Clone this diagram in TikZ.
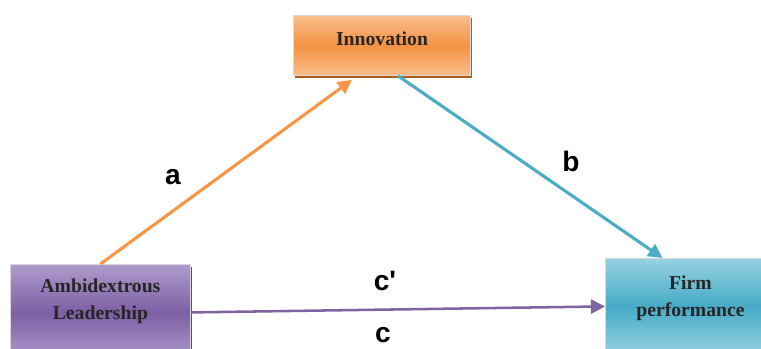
\documentclass[tikz,border=0pt]{standalone}
\usepackage{fontspec}
\setmainfont{Liberation Serif}
\newfontfamily\labelfont{Liberation Sans}
\usepackage{tikz}
\usetikzlibrary{arrows.meta, positioning, calc, shadows}
\definecolor{orangeln}{RGB}{247,150,70}
\definecolor{blueln}{RGB}{75,172,198}
\definecolor{purpleln}{RGB}{128,100,162}
\definecolor{orangetop}{RGB}{250,190,140}
\definecolor{orangemid}{RGB}{244,146,68}
\definecolor{orangedark}{RGB}{180,90,25}
\definecolor{purpletop}{RGB}{175,155,205}
\definecolor{purplemid}{RGB}{125,95,165}
\definecolor{purpledark}{RGB}{95,70,130}
\definecolor{bluetop}{RGB}{150,210,225}
\definecolor{bluemid}{RGB}{70,170,198}
\definecolor{bluedark}{RGB}{45,130,155}
\tikzset{
  basebox/.style={rectangle,draw=white!70!gray,line width=0.6pt,align=center},
  innobox/.style={basebox,top color=orangetop,bottom color=orangetop,middle color=orangemid,
    drop shadow={shadow xshift=1.2pt,shadow yshift=-1.8pt,fill=orangedark,opacity=1},
    minimum width=4.43cm,minimum height=1.5cm},
  ambbox/.style={basebox,top color=purpletop,bottom color=purpletop,middle color=purplemid,
    drop shadow={shadow xshift=1.2pt,shadow yshift=-1.6pt,fill=purpledark,opacity=1},
    minimum width=4.5cm,minimum height=2.4cm},
  firmbox/.style={basebox,top color=bluetop,bottom color=bluetop,middle color=bluemid,
    drop shadow={shadow xshift=1.2pt,shadow yshift=-1.6pt,fill=bluedark,opacity=1},
    minimum width=4.25cm,minimum height=2.4cm},
  boxtext/.style={align=center,font=\fontsize{14}{19}\selectfont\bfseries,text=black!85},
  pathlabel/.style={font=\labelfont\fontsize{20}{22}\selectfont\bfseries},
  arr/.style={-{Triangle[length=10pt,width=10pt]},line width=2.2pt}
}
\begin{document}
\begin{tikzpicture}
  \useasboundingbox (0,0) rectangle (19.025,8.725);
  \node[innobox,anchor=north west] (innov) at (7.325,8.35) {};
  \node[boxtext] (innovtext) at ($(innov.north)+(0,-0.6)$) {Innovation};
  \node[ambbox,anchor=north west] (amb) at (0.25,2.125) {};
  \node[boxtext,below=0.25cm of amb.north] (ambtext) {Ambidextrous\\Leadership};
  \node[firmbox,anchor=north west] (firm) at (15.125,2.275) {};
  \node[boxtext,below=0.33cm of firm.north] (firmtext) {Firm\\performance};

  \draw[arr,orangeln] (amb.north) -- ([xshift=-0.75cm,yshift=-0.1cm]innov.south);
  \draw[arr,blueln] ([xshift=0.4cm]innov.south) -- ([xshift=-0.7cm]firm.north);
  \draw[arr,purpleln,line width=1.8pt] (amb.east) -- (firm.west);

  \node[pathlabel] (la) at (4.325,4.3) {a};
  \node[pathlabel] (lb) at (14.275,4.7) {b};
  \node[pathlabel] (lcp) at (9.625,1.7) {c'};
  \node[pathlabel] (lc) at (9.575,0.35) {c};
\end{tikzpicture}
\end{document}
